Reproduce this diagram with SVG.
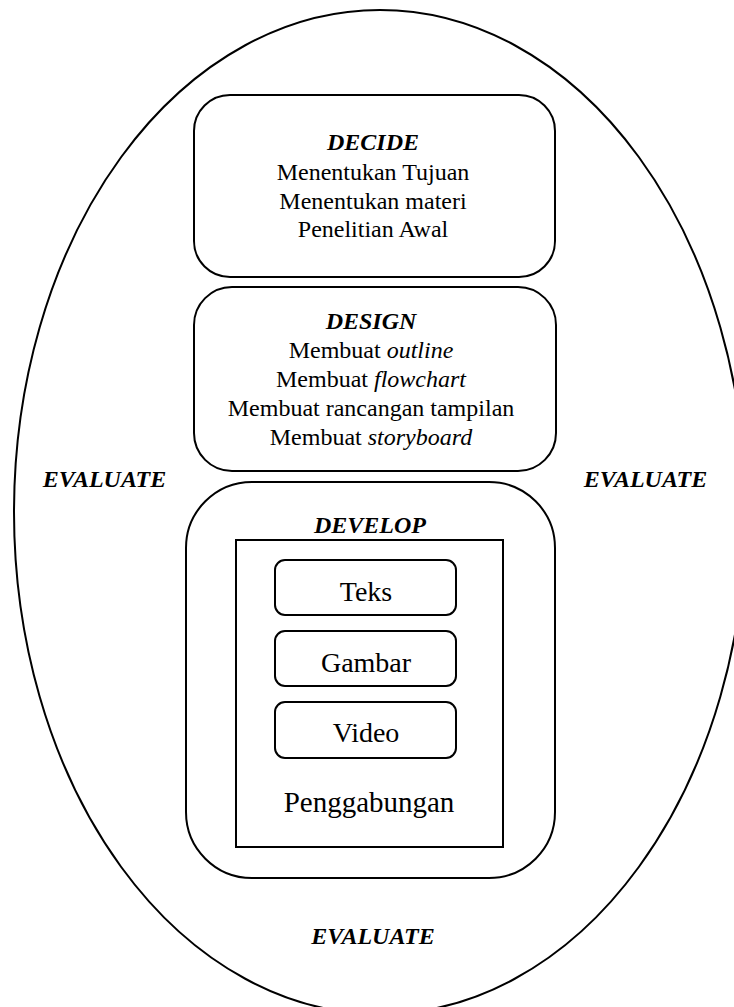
<svg xmlns="http://www.w3.org/2000/svg" width="734" height="1007" viewBox="0 0 734 1007" font-family="'Liberation Serif', Tinos, 'Times New Roman', serif">
<style>
.ln{fill:none;stroke:#000;stroke-width:2}
.box{fill:#fff;stroke:#000;stroke-width:2}
.t{font-size:24px;fill:#000;text-anchor:middle}
.h{font-weight:bold;font-style:italic}
.big{font-size:28px}
.i{font-style:italic}
</style>
<rect width="734" height="1007" fill="#fff"/>
<g id="evaluate-cycle">
<ellipse class="ln" cx="380" cy="512" rx="366" ry="502"/>
<text class="t h" x="104.5" y="487">EVALUATE</text>
<text class="t h" x="645.5" y="487">EVALUATE</text>
<text class="t h" x="373" y="944">EVALUATE</text>
</g>
<g id="decide">
<rect class="box" x="194" y="95" width="361" height="182" rx="36" ry="36"/>
<text class="t h" x="373" y="150">DECIDE</text>
<text class="t" x="373" y="180">Menentukan Tujuan</text>
<text class="t" x="373" y="208.5">Menentukan materi</text>
<text class="t" x="373" y="237">Penelitian Awal</text>
</g>
<g id="design">
<rect class="box" x="194" y="287" width="362" height="184" rx="38" ry="38"/>
<text class="t h" x="371" y="329">DESIGN</text>
<text class="t" x="371" y="358">Membuat <tspan class="i">outline</tspan></text>
<text class="t" x="371" y="387">Membuat <tspan class="i">flowchart</tspan></text>
<text class="t" x="371" y="416">Membuat rancangan tampilan</text>
<text class="t" x="371" y="445">Membuat <tspan class="i">storyboard</tspan></text>
</g>
<g id="develop">
<rect class="box" x="186" y="482" width="369" height="396" rx="66" ry="66"/>
<text class="t h" x="370" y="533">DEVELOP</text>
<rect class="box" x="236" y="540" width="267" height="307"/>
</g>
<g id="teks">
<rect class="box" x="275" y="560" width="181" height="55" rx="10" ry="10"/>
<text class="t big" x="366" y="601">Teks</text>
</g>
<g id="gambar">
<rect class="box" x="275" y="631" width="181" height="55" rx="10" ry="10"/>
<text class="t big" x="366" y="672">Gambar</text>
</g>
<g id="video">
<rect class="box" x="275" y="702" width="181" height="56" rx="10" ry="10"/>
<text class="t big" x="366" y="742">Video</text>
</g>
<g id="penggabungan">
<text class="t" x="369" y="812" style="font-size:29px">Penggabungan</text>
</g>
<g id="connectors"/>
</svg>
